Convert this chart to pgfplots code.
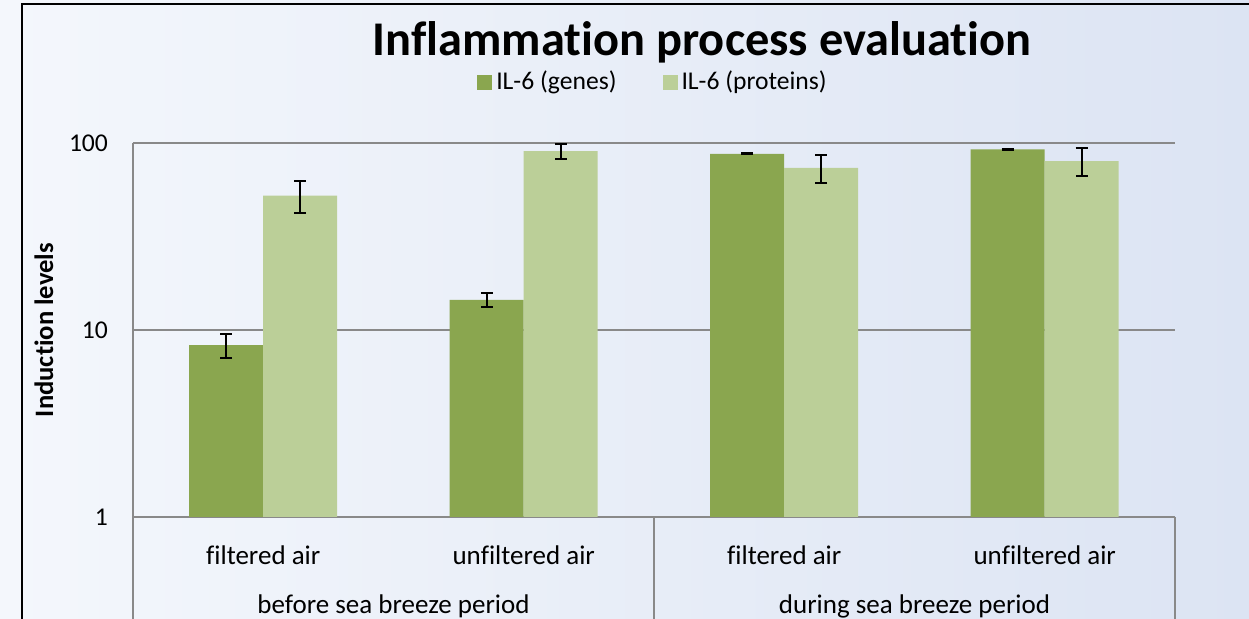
\documentclass[border=0pt]{standalone}
\usepackage{pgfplots}
\pgfplotsset{compat=1.18}
\usepackage{fontspec}
\setmainfont{Carlito}[Ligatures=NoCommon]
\definecolor{genes}{RGB}{138,166,79}
\definecolor{proteins}{RGB}{187,207,152}
\definecolor{gridgray}{RGB}{137,137,137}
\definecolor{bgL}{RGB}{244,247,252}
\definecolor{bgR}{RGB}{220,228,243}
\begin{document}
\begin{tikzpicture}
\shade[left color=bgL, right color=bgR] (0,0) rectangle (624.5pt,309.5pt);
\draw[line width=1pt] (11pt,0) -- (11pt,307.5pt) -- (624.5pt,307.5pt);
\node[anchor=base, font=\bfseries\fontsize{24.2}{29}\selectfont] at (351pt,281.75pt) {Inflammation process evaluation};
\begin{axis}[
  at={(66.5pt,51pt)}, anchor=south west,
  scale only axis, width=521pt, height=187pt,
  ybar, bar width=37pt,
  ymode=log, ymin=1, ymax=100, xmin=-0.5, xmax=3.5,
  ytick={1,10,100}, yticklabels={1,10,100},
  minor ytick={},
  xtick={0,1,2,3},
  xticklabels={filtered air, unfiltered air, filtered air, unfiltered air},
  major tick length=0pt, minor tick length=0pt,
  ymajorgrids, grid style={gridgray, line width=0.7pt},
  axis x line*=bottom, axis y line*=left,
  axis line style={gridgray, line width=0.75pt, -},
  clip=false,
  ticklabel style={font=\fontsize{12.8}{15}\selectfont, text=black},
  yticklabel style={xshift=-9pt},
  xticklabel style={anchor=center, yshift=-19pt, font=\fontsize{13.5}{16}\selectfont},
  ylabel={\bfseries Induction levels},
  ylabel style={at={(axis description cs:-0.0854,0.5)}, rotate=0, anchor=center, font=\fontsize{13.3}{16}\selectfont},
  legend style={at={(0.5,1.163)}, anchor=center, draw=none, fill=none,
    legend columns=2, font=\fontsize{12.8}{15}\selectfont,
    /tikz/every even column/.append style={column sep=21pt}},
  legend cell align=left,
  /pgf/number format/assume math mode=true,
]
\addplot[bar shift=-18.5pt, fill=genes, draw=none,
  legend image code/.code={\fill[genes] (0pt,-3.75pt) rectangle (7.5pt,3.75pt);},
  error bars/.cd, y dir=both, y explicit,
  error bar style={black, line width=0.9pt},
  error mark options={rotate=90, black, line width=0.9pt, mark size=3pt}]
  coordinates {(0,8.3) +- (0,1.2) (1,14.5) +- (0,1.25) (2,87.4) +- (0,0.6) (3,92.5) +- (0,0.6)};
\addlegendentry{IL-6 (genes)}
\addplot[bar shift=18.5pt, fill=proteins, draw=none,
  legend image code/.code={\fill[proteins] (0pt,-3.75pt) rectangle (7.5pt,3.75pt);},
  error bars/.cd, y dir=both, y explicit,
  error bar style={black, line width=0.9pt},
  error mark options={rotate=90, black, line width=0.9pt, mark size=3pt}]
  coordinates {(0,52.3) +- (0,10.2) (1,90.6) +- (0,8.5) (2,73.5) +- (0,12.5) (3,80.1) +- (0,13.8)};
\addlegendentry{IL-6 (proteins)}
\draw[gridgray, line width=0.75pt] (axis cs:-0.5,1) -- ([yshift=-52pt]axis cs:-0.5,1);
\draw[gridgray, line width=0.75pt] (axis cs:1.5,1) -- ([yshift=-52pt]axis cs:1.5,1);
\draw[gridgray, line width=0.75pt] (axis cs:3.5,1) -- ([yshift=-52pt]axis cs:3.5,1);
\node[font=\fontsize{13.5}{16}\selectfont] at ([yshift=-44.5pt]axis cs:0.5,1) {before sea breeze period};
\node[font=\fontsize{13.5}{16}\selectfont] at ([yshift=-44.5pt]axis cs:2.5,1) {during sea breeze period};
\end{axis}
\pgfresetboundingbox
\useasboundingbox (0,0) rectangle (624.5pt,309.5pt);
\end{tikzpicture}
\end{document}
